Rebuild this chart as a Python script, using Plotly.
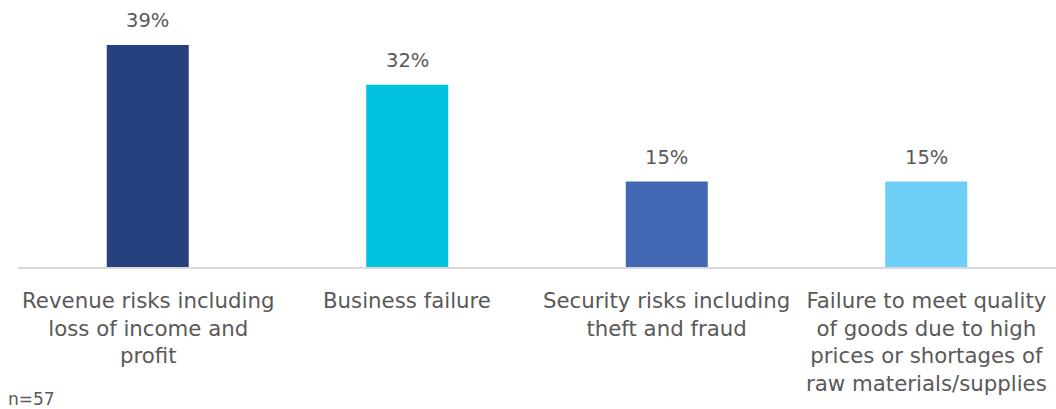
import plotly.graph_objects as go

# Survey results: share of respondents naming each risk
categories = [
    "Revenue risks including<br>loss of income and<br>profit",
    "Business failure",
    "Security risks including<br>theft and fraud",
    "Failure to meet quality<br>of goods due to high<br>prices or shortages of<br>raw materials/supplies",
]
values = [39, 32, 15, 15]
bar_colors = ["#27407E", "#00C1DE", "#4268B3", "#6DCFF6"]
sample_note = "n=57"

FONT = "DejaVu Sans"
TEXT_COLOR = "#595959"

x_idx = list(range(len(categories)))

fig = go.Figure(
    go.Bar(
        x=x_idx,
        y=values,
        marker=dict(color=bar_colors, line=dict(width=0)),
        width=0.316,
        hoverinfo="skip",
    )
)

annotations = []
# value labels above each bar
for i, v in zip(x_idx, values):
    annotations.append(dict(
        x=i, y=v, xref="x", yref="y",
        text=f"{v}%", showarrow=False,
        xanchor="center", yanchor="bottom", yshift=11,
        font=dict(family=FONT, size=19.5, color=TEXT_COLOR),
    ))
# category labels under the axis
for i, c in zip(x_idx, categories):
    annotations.append(dict(
        x=i, y=0, xref="x", yref="paper",
        text=c, showarrow=False,
        xanchor="center", yanchor="top", yshift=-19,
        align="center",
        font=dict(family=FONT, size=21.3, color=TEXT_COLOR),
    ))
# sample size note
annotations.append(dict(
    x=0, y=0, xref="paper", yref="paper",
    text=sample_note, showarrow=False,
    xanchor="left", yanchor="bottom", xshift=-12, yshift=-144,
    font=dict(family=FONT, size=17, color=TEXT_COLOR),
))

fig.update_layout(
    width=1056, height=409,
    margin=dict(l=18, r=0, t=0, b=142),
    paper_bgcolor="white", plot_bgcolor="white",
    showlegend=False,
    annotations=annotations,
    xaxis=dict(
        range=[-0.5, 3.5], showticklabels=False, ticks="",
        showgrid=False, zeroline=False,
        showline=True, linecolor="#D9D9D9", linewidth=2,
        fixedrange=True,
    ),
    yaxis=dict(
        range=[0, 46.9], visible=False, showgrid=False, zeroline=False,
        fixedrange=True,
    ),
)

fig.write_html("out.html", config={"displayModeBar": False})
